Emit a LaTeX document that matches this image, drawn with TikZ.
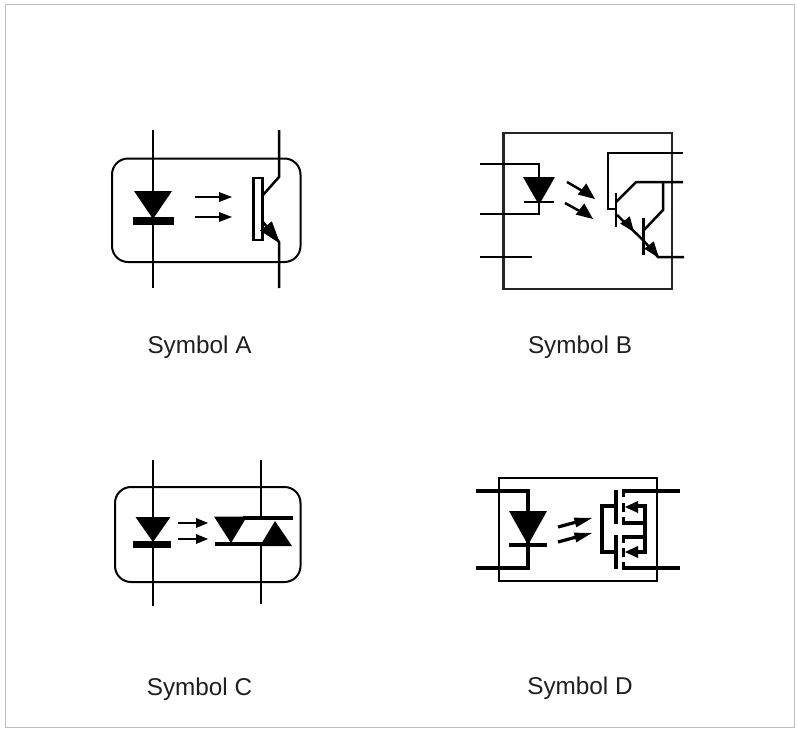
\documentclass[tikz,border=0pt]{standalone}
\usepackage{fontspec}
\setmainfont{Liberation Sans}
\usetikzlibrary{calc}
\tikzset{
  wire/.style={draw=black,line width=2.5pt,line join=miter},
  outline/.style={draw=black,line width=2pt},
  thick wire/.style={draw=black,line width=3.2pt},
  ray/.style={draw=black,line width=1.6pt},
  caption/.style={font=\fontsize{24.3}{28}\selectfont,text=black!88,inner sep=0pt,anchor=center},
}
\newcommand{\headtri}[5]{% tip x, tip y, tail x, tail y, half width: solid arrowhead
  \fill[black] (#1,#2) -- ($(#3,#4)!#5pt!90:(#1,#2)$) -- ($(#3,#4)!#5pt!-90:(#1,#2)$) -- cycle;}
\begin{document}
\begin{tikzpicture}[x=1pt,y=-1pt]
\useasboundingbox (0,0) rectangle (797,732);
\fill[white] (0,0) rectangle (797,732);
\draw[draw=black!25,line width=1pt] (5,4.5) rectangle (794,727);
% Symbol A
\draw[outline,rounded corners=16pt] (112,158.5) rectangle (300.5,262);
\draw[wire] (153,130) -- (153,288);
\draw[wire] (279,130) -- (279,177) -- (263,195);
\draw[wire] (263,222) -- (279,242) -- (279,288);
\fill[black] (134,191) -- (172,191) -- (153,219) -- cycle;
\fill[black] (133,217) rectangle (174,225);
\draw[ray] (195,197) -- (222,197); \fill[black] (232,197) -- (219,192) -- (219,202) -- cycle;
\draw[ray] (195,217) -- (222,217); \fill[black] (232,217) -- (219,212) -- (219,222) -- cycle;
\draw[wire] (253.5,178) rectangle (262.5,240);
\headtri{280}{243.5}{266}{226}{7.5}
\node[caption] (captionA) at (199.5,347) {Symbol A};
% Symbol B
\draw[draw=black!85,line width=2.8pt] (503.5,133) rectangle (672,289);
\draw[wire] (480,164) -- (539,164) -- (539,178);
\fill[black] (523,177) -- (555,177) -- (539,205) -- cycle;
\draw[wire] (524,202) -- (554,202);
\draw[wire] (539,202) -- (539,214) -- (480,214);
\draw[wire] (480,257) -- (532,257);
\draw[wire] (567,182) -- (585,192.5); \headtri{595}{199}{582}{189}{7}
\draw[wire] (565,203) -- (583,213); \headtri{593}{219}{580}{209}{7}
\draw[wire] (683,153) -- (608,153) -- (608,209) -- (616,209);
\draw[wire] (616,193) -- (616,227);
\draw[wire] (616,202) -- (636,182) -- (683,182);
\draw[wire] (663,182) -- (663,210) -- (644,230);
\draw[wire] (643.5,218) -- (643.5,255);
\draw[wire] (617,215) -- (643,240) -- (658,257) -- (684,257);
\headtri{634}{232}{625}{220}{6}
\headtri{659}{258}{649}{245}{6}
\node[caption] (captionB) at (580,347) {Symbol B};
% Symbol C
\draw[outline,rounded corners=16pt] (115,487) rectangle (300.5,582);
\draw[wire] (153,460) -- (153,606);
\draw[wire] (261,460) -- (261,518);
\draw[wire] (261,544) -- (261,604);
\fill[black] (135.5,517) -- (170.5,517) -- (153,542) -- cycle;
\fill[black] (133,541) rectangle (171,548);
\draw[ray] (178,523) -- (198,523); \fill[black] (208,523) -- (196,518) -- (196,528) -- cycle;
\draw[ray] (178,539) -- (198,539); \fill[black] (208,539) -- (196,534) -- (196,544) -- cycle;
\fill[black] (214,516.5) -- (247,516.5) -- (231,543) -- cycle;
\fill[black] (275,521) -- (292,546) -- (260,546) -- cycle;
\draw[thick wire] (243,518) -- (293,518);
\draw[thick wire] (215,544) -- (262,544);
\node[caption] (captionC) at (199.5,689) {Symbol C};
% Symbol D
\draw[outline] (499,478) rectangle (657,581);
\draw[thick wire] (476,491) -- (528,491) -- (528,568) -- (476,568);
\fill[black] (509,511) -- (547,511) -- (528,545) -- cycle;
\draw[thick wire] (509,545) -- (547,545);
\draw[thick wire] (558,527) -- (582,520.5); \headtri{592}{518}{575}{522.5}{5}
\draw[thick wire] (558,542) -- (582,535.5); \headtri{592}{533}{575}{537.5}{5}
\draw[thick wire] (616,490) -- (616,524);
\draw[thick wire] (616,535) -- (616,569);
\draw[thick wire] (616,506) -- (602,506) -- (602,552) -- (616,552);
\draw[thick wire] (680,491) -- (623.5,491) -- (623.5,497);
\draw[thick wire] (680,568) -- (623.5,568) -- (623.5,562);
\draw[thick wire] (623.5,503) -- (623.5,512);
\draw[thick wire] (623.5,548) -- (623.5,557);
\draw[thick wire] (623.5,517) -- (623.5,523) -- (645,523);
\draw[thick wire] (623.5,543) -- (623.5,537) -- (645,537);
\draw[thick wire] (635,506) -- (645,506) -- (645,552) -- (635,552);
\fill[black] (625,507) -- (638,501) -- (638,513) -- cycle;
\fill[black] (625,552) -- (638,546) -- (638,558) -- cycle;
\node[caption] (captionD) at (580,688) {Symbol D};
\end{tikzpicture}
\end{document}
